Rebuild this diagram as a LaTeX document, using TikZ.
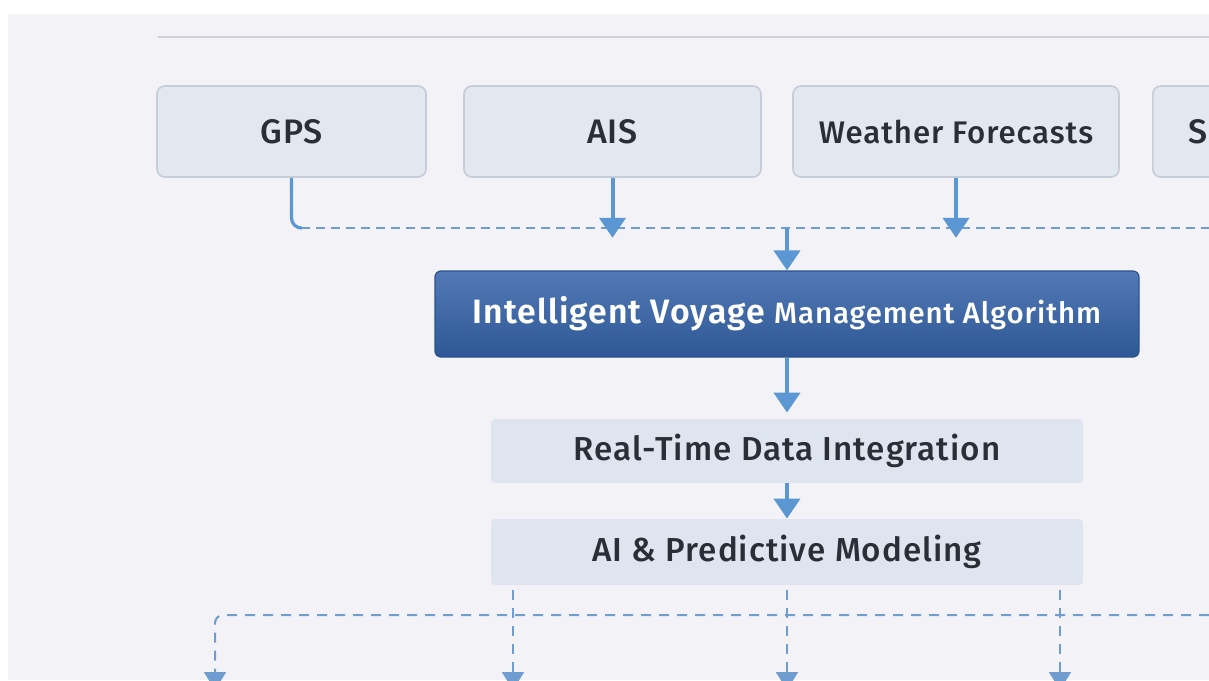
\documentclass[tikz,border=0pt]{standalone}
\usepackage{fontspec}
\setmainfont{Fira Sans}[UprightFont={* Medium}, BoldFont={* SemiBold}]
\usetikzlibrary{arrows.meta}

\definecolor{bgpage}{HTML}{F3F2F6}
\definecolor{rulegray}{HTML}{D2D2D8}
\definecolor{srcfill}{HTML}{E3E7F0}
\definecolor{srcline}{HTML}{C6CCD8}
\definecolor{stagefill}{HTML}{DFE5EF}
\definecolor{flowblue}{HTML}{5A97D3}
\definecolor{dashblue}{HTML}{709DD0}
\definecolor{algtop}{HTML}{5179B6}
\definecolor{algbot}{HTML}{2E5895}
\definecolor{algline}{HTML}{2C528C}
\definecolor{txtdark}{HTML}{2A2E37}

\newcommand{\spaced}[2]{\fontsize{#1}{#1}\selectfont\addfontfeature{LetterSpace=#2}}

\tikzset{
  srcbox/.style={draw=srcline, line width=0.8pt, fill=srcfill, rounded corners=4pt,
    text=txtdark, font=\spaced{17}{3}, minimum height=45.5pt},
  algbox/.style={draw=algline, line width=0.6pt, top color=algtop, bottom color=algbot,
    rounded corners=3pt, text=white, minimum width=352pt, minimum height=43pt},
  stagebox/.style={fill=stagefill, rounded corners=2pt, text=txtdark,
    font=\spaced{16.6}{3}, minimum width=296pt},
  flow/.style={draw=flowblue, line width=2pt, -{Triangle[width=13pt,length=10pt]}},
  gpsline/.style={draw=flowblue, line width=1.6pt, rounded corners=5pt},
  dashbus/.style={draw=dashblue, line width=1.4pt, dash pattern=on 4.5pt off 3pt},
  dashdrop/.style={draw=dashblue, line width=1pt, dash pattern=on 5pt off 4pt,
    -{Triangle[width=11pt,length=9pt]}},
}

\begin{document}
\begin{tikzpicture}[x=0.5pt,y=-0.5pt]
% Page
\clip (0,0) rectangle (1209,680);
\fill[white] (0,0) rectangle (1209,680);
\fill[bgpage] (8,14) rectangle (1209,680);
\draw[rulegray, line width=0.8pt] (158,37) -- (1209,37);

% Data sources
\node[srcbox, minimum width=134.5pt] (gps) at (291.5,131.5) {GPS};
\node[srcbox, minimum width=148.5pt] (ais) at (612.5,131.5) {AIS};
\node[srcbox, minimum width=163pt, font=\spaced{15.6}{3}] (wx) at (956,131.5) {Weather Forecasts};
\node[srcbox, anchor=west, align=left, text width=104pt, inner xsep=18pt] (src4) at (1152,131.5) {S};

% Input bus
\coordinate (busL) at (301,228);
\coordinate (busR) at (1209,228);
\draw[dashbus] (busL) -- (busR);
\draw[gpsline] (gps.south) -- (gps.south |- busL) -- (busL);
\draw[flow] (ais.south) -- ++(0,60);
\draw[flow] (wx.south) -- ++(0,60);

% Core algorithm
\node[algbox] (alg) at (787,314)
  {\bfseries\spaced{16.9}{3}Intelligent Voyage
   \mdseries\spaced{14.7}{3}Management Algorithm};
\draw[flow] (alg.north |- busL) -- (alg.north);

% Processing stages
\node[stagebox, minimum height=32pt] (rt) at (787,451) {Real-Time Data Integration};
\node[stagebox, minimum height=33pt] (ai) at (787,552) {AI \& Predictive Modeling};
\draw[flow, shorten >=3pt] (alg.south) -- (rt.north);
\draw[flow] (rt.south) -- (ai.north);

% Output bus
\coordinate (outL) at (215,615);
\coordinate (outR) at (1209,615);
\draw[dashdrop, rounded corners=4pt] (outR) -- (outL) -- (215,690);
\foreach \x in {513,787,1060} {
  \draw[dashdrop, shorten <=2.5pt] (ai.south -| \x,0) -- (\x,690);
}
\end{tikzpicture}
\end{document}
